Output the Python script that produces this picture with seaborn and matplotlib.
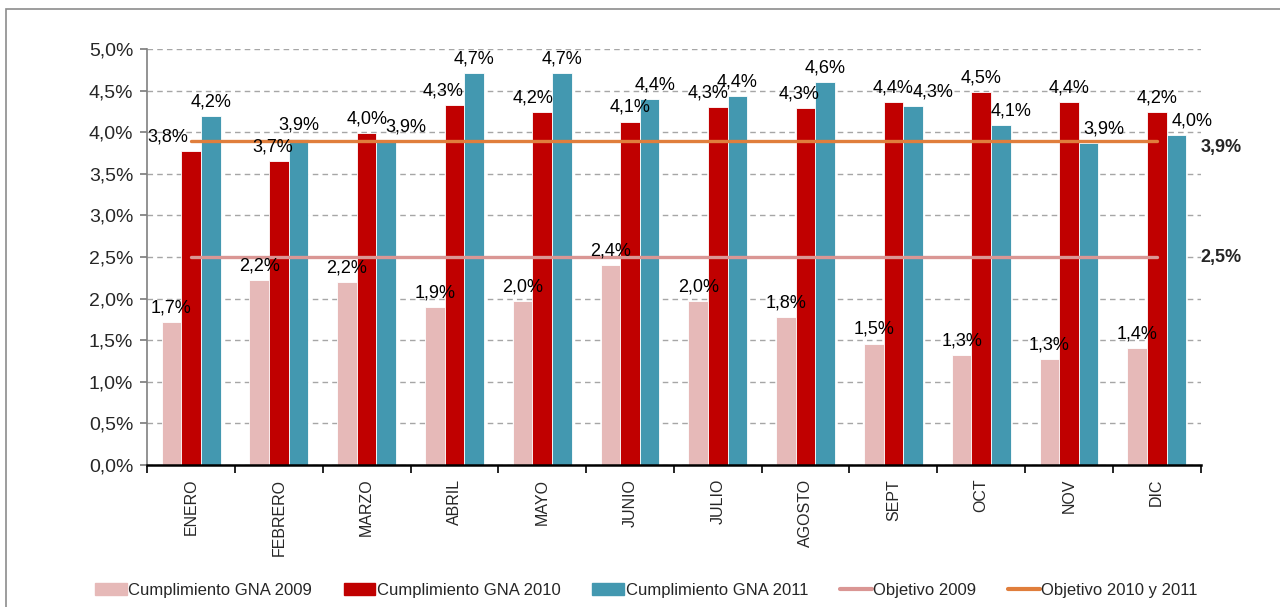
import matplotlib
matplotlib.use("Agg")
import matplotlib.pyplot as plt
import matplotlib.patches as mpatches
import matplotlib.lines as mlines
import matplotlib.transforms as mtransforms
import numpy as np
import pandas as pd
import seaborn as sns

months = ["ENERO", "FEBRERO", "MARZO", "ABRIL", "MAYO", "JUNIO",
          "JULIO", "AGOSTO", "SEPT", "OCT", "NOV", "DIC"]
gna_2009 = [1.72, 2.22, 2.20, 1.90, 1.97, 2.40, 1.97, 1.78, 1.46, 1.32, 1.27, 1.41]
gna_2010 = [3.77, 3.66, 3.99, 4.33, 4.24, 4.13, 4.30, 4.29, 4.36, 4.49, 4.36, 4.24]
gna_2011 = [4.20, 3.92, 3.90, 4.71, 4.71, 4.40, 4.44, 4.60, 4.32, 4.09, 3.87, 3.97]
objetivo_2009 = 2.5
objetivo_2010_2011 = 3.9

series = ["Cumplimiento GNA 2009", "Cumplimiento GNA 2010", "Cumplimiento GNA 2011"]
colors = ["#E6B9B8", "#C00000", "#4398B0"]
line_2009_color = "#DA9694"
line_2010_color = "#E07E3C"

# horizontal nudges (px) for data labels, as placed in the original chart
label_dx = [
    [0] * 12,
    [-23, -6, 0, -11, -9, 0, -10, -7, 0, 0, 0, 0],
    [0, 0, 20, 0, 0, 5, 0, 0, 20, 10, 15, 16],
]

df = pd.DataFrame({
    "mes": months * 3,
    "valor": gna_2009 + gna_2010 + gna_2011,
    "serie": [s for s in series for _ in months],
})

sns.set_theme(style="white")
plt.rcParams["font.family"] = ["Liberation Sans", "DejaVu Sans"]

fig = plt.figure(figsize=(12.8, 6.07), dpi=100)
ax = fig.add_axes([0.115, 0.234, 0.823, 0.685])

sns.barplot(data=df, x="mes", y="valor", hue="serie", hue_order=series,
            palette=colors, width=0.67, saturation=1, edgecolor="white",
            linewidth=0.6, ax=ax, legend=False, zorder=2)

# value labels
for cont, vals, dxs in zip(ax.containers, [gna_2009, gna_2010, gna_2011], label_dx):
    for bar, v, dx in zip(cont, vals, dxs):
        ax.annotate(f"{v:.1f}%".replace(".", ","),
                    (bar.get_x() + bar.get_width() / 2, bar.get_height()),
                    xytext=(dx * 0.72, 4), textcoords="offset points",
                    ha="center", va="bottom", fontsize=13, color="black",
                    zorder=5)

# target lines
ax.plot([0, len(months) - 1], [objetivo_2009] * 2, color=line_2009_color,
        lw=2.4, zorder=4, solid_capstyle="round")
ax.plot([0, len(months) - 1], [objetivo_2010_2011] * 2, color=line_2010_color,
        lw=2.4, zorder=4, solid_capstyle="round")

trans = mtransforms.blended_transform_factory(ax.transAxes, ax.transData)
ax.text(1.0, objetivo_2010_2011 - 0.08, "3,9%", transform=trans, fontsize=13,
        fontweight="bold", va="center", ha="left", clip_on=False)
ax.text(1.0, objetivo_2009, "2,5%", transform=trans, fontsize=13,
        fontweight="bold", va="center", ha="left", clip_on=False)

ax.set_ylim(0, 5)
ax.set_xlim(-0.5, len(months) - 0.5)
ax.set_yticks(np.arange(0, 5.01, 0.5))
ax.set_yticklabels([f"{v:.1f}%".replace(".", ",") for v in np.arange(0, 5.01, 0.5)],
                   fontsize=14)
ax.yaxis.grid(True, linestyle=(0, (4, 3)), color="#A6A6A6", lw=1.0, zorder=0)
ax.set_axisbelow(True)
ax.set_xlabel("")
ax.set_ylabel("")

ax.tick_params(axis="y", left=True, length=5, color="#808080", pad=5)
ax.set_xticks(range(len(months)))
ax.set_xticklabels(months, rotation=90, fontsize=11.5)
ax.set_xticks(np.arange(-0.5, len(months)), minor=True)
ax.tick_params(axis="x", which="major", length=0, pad=10)
ax.tick_params(axis="x", which="minor", bottom=True, length=6, width=1.2,
               color="black", direction="out")

for side in ["top", "right"]:
    ax.spines[side].set_visible(False)
ax.spines["left"].set_color("#808080")
ax.spines["left"].set_linewidth(1.2)
ax.spines["bottom"].set_color("black")
ax.spines["bottom"].set_linewidth(1.8)

handles = [mpatches.Patch(color=c) for c in colors]
handles += [mlines.Line2D([], [], color=line_2009_color, lw=3),
            mlines.Line2D([], [], color=line_2010_color, lw=3)]
legend_labels = series + ["Objetivo 2009", "Objetivo 2010 y 2011"]
fig.legend(handles, legend_labels, loc="center", bbox_to_anchor=(0.505, 0.027),
           ncol=5, frameon=False, fontsize=12, handlelength=1.9,
           handletextpad=0.1, columnspacing=1.9)

# outer chart frame (top and left visible)
fig.patches.append(mpatches.Rectangle((6 / 1280, -0.1), 1.2, (1 - 9 / 607) + 0.1,
                                      transform=fig.transFigure, fill=False,
                                      edgecolor="#8C8C8C", lw=1.2))

fig.savefig("out.png", dpi=100)
